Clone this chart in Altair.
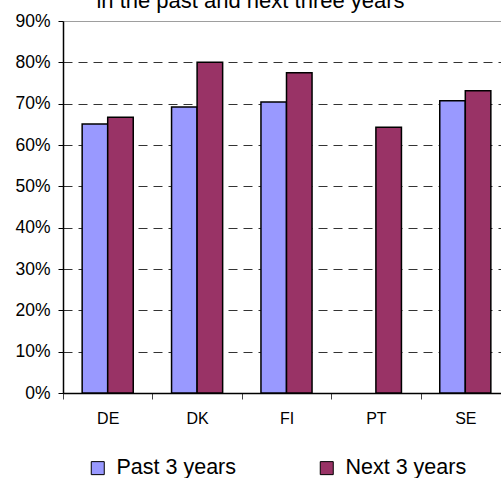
import altair as alt
import pandas as pd

countries = ["DE", "DK", "FI", "PT", "SE"]
past_3_years = [0.651, 0.692, 0.704, None, 0.707]
next_3_years = [0.667, 0.800, 0.775, 0.643, 0.731]
series_names = ["Past 3 years", "Next 3 years"]
series_colors = ["#9999FF", "#993366"]
y_ticks = [0, 0.1, 0.2, 0.3, 0.4, 0.5, 0.6, 0.7, 0.8, 0.9]
title_text = "in the past and next three years"

rows = []
for c, p, n in zip(countries, past_3_years, next_3_years):
    if p is not None:
        rows.append({"country": c, "series": series_names[0], "value": p})
    if n is not None:
        rows.append({"country": c, "series": series_names[1], "value": n})
df = pd.DataFrame(rows)

FONT = "Liberation Sans"
W, H = 438, 372

bars = alt.Chart(df).mark_bar(stroke="black", strokeWidth=1.5).encode(
    x=alt.X("country:N", sort=countries, title=None,
            scale=alt.Scale(range=[0, 447], paddingInner=0, paddingOuter=0),
            axis=alt.Axis(labelAngle=0, tickBand="extent", tickSize=6, labelPadding=11,
                          labelFontSize=16, labelFont=FONT, labelColor="black",
                          domainColor="black", domainWidth=1.5, tickColor="#444",
                          tickWidth=1, grid=False)),
    xOffset=alt.XOffset("series:N", sort=series_names,
                        scale=alt.Scale(paddingOuter=0.75, paddingInner=0)),
    y=alt.Y("value:Q", title=None,
            scale=alt.Scale(domain=[0, 0.9], nice=False),
            axis=alt.Axis(values=y_ticks, format=".0%", tickSize=5, labelPadding=8,
                          labelFontSize=17.5, labelFont=FONT, labelColor="black",
                          domainColor="black", domainWidth=1.5, tickColor="black",
                          grid=True,
                          gridColor=alt.condition("datum.value >= 0.9", alt.value("#888888"), alt.value("#333333")),
                          gridDash=alt.condition("datum.value >= 0.9", alt.value([1, 0]), alt.value([9, 6])),
                          gridWidth=1)),
    color=alt.Color("series:N", sort=series_names,
                    scale=alt.Scale(domain=series_names, range=series_colors),
                    legend=alt.Legend(title=None, orient="none", direction="horizontal",
                                      legendX=24, legendY=436, padding=0,
                                      symbolType="square", symbolSize=169,
                                      symbolStrokeColor="black", symbolStrokeWidth=1,
                                      labelFontSize=21.5, labelFont=FONT, labelColor="black",
                                      labelOffset=8, columnPadding=80, labelLimit=300)),
)

title = alt.Chart(pd.DataFrame({"t": [title_text]})).mark_text(
    font=FONT, fontSize=22, align="center", baseline="alphabetic", color="black"
).encode(
    text="t:N",
    x=alt.value(250.5 - 63),
    y=alt.value(8.3 - 21),
)

chart = alt.layer(bars, title).properties(
    width=W, height=H,
    autosize=alt.AutoSizeParams(type="none"),
    padding={"left": 63, "top": 21, "right": 0, "bottom": 85},
).configure_view(stroke=None).configure(background="white")

chart.save("out.html", embed_options={"renderer": "svg", "actions": False})
